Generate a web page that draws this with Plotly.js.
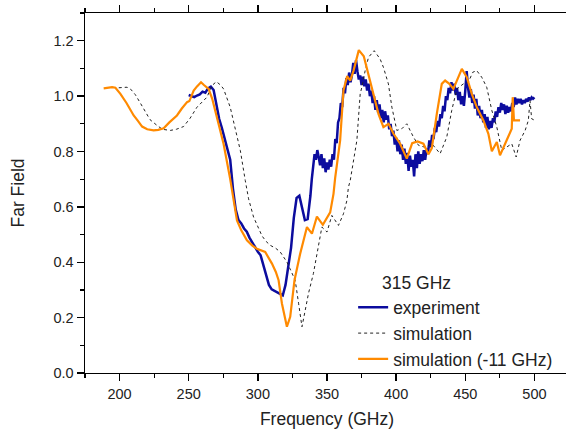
<!DOCTYPE html>
<html>
<head>
<meta charset="utf-8">
<script src="https://cdn.plot.ly/plotly-3.0.1.min.js"></script>
<style>
  html, body { margin: 0; padding: 0; overflow: hidden; background: #fff; }
  #chart { width: 580px; height: 430px; }
</style>
</head>
<body>
<div id="chart"></div>
<script>
// Measured far-field amplitude (315 GHz design)
const expFreq = [
  250,252,254,256,258,260,262,264,266,268,270,272,274,276,278,280,282,284,286,288,
  290,292,294,296,298,300,302,304,306,308,310,312,314,316,318,320,322,324,326,328,
  330,332,334,336,
  337,338,339,340,341,342,343,344,345,346,347,348,349,350,351,352,353,354,355,356,
  357,358,359,360,361,362,363,364,365,366,367,368,369,370,371,372,373,374,375,376,
  377,378,379,380,381,382,383,384,385,386,387,388,389,390,391,392,393,394,395,396,
  397,398,399,400,401,402,403,404,405,406,407,408,409,410,411,412,413,414,415,416,
  417,418,419,420,421,422,423,424,425,426,427,428,429,430,431,432,433,434,435,436,
  437,438,439,440,441,442,443,444,445,446,447,448,449,450,451,452,453,454,455,456,
  457,458,459,460,461,462,463,464,465,466,467,468,469,470,471,472,473,474,475,476,
  477,478,479,480,481,482,483,484,485,486,487,488,489,490,491,492,493,494,495,496,
  497,498,499,500
];
const expField = [
  1.004,1.000,0.996,1.002,1.006,1.016,1.012,1.028,1.034,1.022,0.962,0.918,0.884,0.846,0.812,0.770,0.665,0.590,0.552,0.540,
  0.522,0.510,0.488,0.470,0.452,0.438,0.425,0.392,0.356,0.318,0.302,0.296,0.290,0.284,0.280,0.318,0.382,0.452,0.560,0.632,
  0.640,0.590,0.552,0.556,
  0.590,0.640,0.700,0.760,0.790,0.770,0.805,0.780,0.750,0.790,0.740,0.775,0.725,0.760,0.735,0.770,0.745,0.790,0.770,0.845,
  0.830,0.905,0.920,0.975,0.960,1.030,1.010,1.065,1.040,1.085,1.050,1.075,1.120,1.080,1.130,1.090,1.060,1.075,1.040,1.070,
  1.035,1.060,1.020,1.045,1.000,1.020,0.975,1.000,0.950,0.985,0.940,0.970,0.920,0.950,0.905,0.945,0.915,0.930,0.880,0.900,
  0.855,0.875,0.825,0.850,0.800,0.840,0.790,0.825,0.770,0.810,0.755,0.795,0.730,0.785,0.745,0.770,0.710,0.790,0.740,0.800,
  0.755,0.790,0.765,0.805,0.770,0.810,0.790,0.840,0.815,0.860,0.845,0.885,0.870,0.910,0.890,0.935,0.920,0.965,0.945,1.000,
  0.985,1.030,1.010,1.050,1.020,1.045,1.005,1.030,0.985,1.015,0.970,1.000,0.965,1.020,1.090,1.030,0.995,1.025,0.975,1.005,
  0.955,0.990,0.930,0.965,0.920,0.950,0.905,0.935,0.885,0.925,0.880,0.910,0.885,0.920,0.905,0.945,0.925,0.960,0.940,0.975,
  0.950,0.970,0.935,0.965,0.940,0.960,0.945,0.975,0.960,0.995,0.970,0.990,0.975,0.990,0.970,0.985,0.975,0.990,0.980,0.995,
  0.985,0.995,0.990,0.995
];

// Simulated far field
const simFreq = [
  199.4,205.4,208,211.4,215,218.6,222,227.1,231,236.7,241,246.3,251,256,260,263.2,266.8,270,273,275.2,
  280,284,287.3,290.9,293.3,296.9,300,303,306,309,313,316.2,321,327,329.5,331.9,334,336.6,340.2,342.7,
  346.3,350,353.5,358.3,361.9,364.4,365.5,366.8,371.6,374,375.2,377.6,380,384.1,388.4,390.8,394.4,396.9,400.5,404.1,
  407.7,412.5,416.2,421,425.8,431.8,436.6,440.2,443.9,448.6,452.2,455.4,458.3,461.9,465.5,469.2,472.8,476.4,480,483.6,
  486.8,489.6,493.3,495.6,496.8,498,500.4
];
const simField = [
  1.030,1.032,1.025,1.005,0.975,0.942,0.915,0.894,0.880,0.876,0.880,0.890,0.920,0.960,0.980,0.996,1.038,1.052,1.040,1.026,
  0.960,0.880,0.804,0.695,0.629,0.563,0.525,0.495,0.475,0.461,0.450,0.437,0.401,0.335,0.250,0.167,0.220,0.287,0.360,0.431,
  0.527,0.509,0.569,0.533,0.575,0.623,0.671,0.695,0.840,1.008,1.032,1.092,1.140,1.164,1.134,1.104,1.044,0.960,0.876,0.882,
  0.900,0.852,0.822,0.815,0.828,0.792,0.852,0.948,1.026,1.044,1.050,1.086,1.092,1.068,1.032,0.948,0.888,0.804,0.815,0.828,
  0.780,0.840,0.876,0.912,0.984,0.918,0.912
];

// Simulated far field shifted by -11 GHz
const shiftFreq = [
  188.5,194.6,197,200.6,205,210.2,213,216.3,220,224.6,228,231.9,236,241.5,245,248.8,250.5,253.6,256,258.9,
  261,264.4,267,270,275.2,280,282.4,284.9,288,292.1,296,299.3,305.3,310.2,313,315,317.4,321,323.4,326.5,
  330.6,335.5,339.1,342.7,347,352.3,354.7,355.9,359.5,361.9,364.6,366.8,369.2,373,376.6,380,383.6,387.2,390.8,394.5,
  398.1,402.9,407.7,411.6,415.5,419.7,423.4,425.8,429.4,433,435.4,438.5,441.4,444.3,447.5,451.1,454.7,458.3,463.1,466.7,
  469.2,472.8,475.1,478.8,483.6,484.3,485.2,489.6
];
const shiftField = [
  1.028,1.032,1.030,1.008,0.975,0.930,0.912,0.890,0.880,0.876,0.878,0.884,0.905,0.930,0.955,0.978,0.982,1.020,1.035,1.050,
  1.040,1.026,0.990,0.930,0.828,0.700,0.623,0.551,0.515,0.479,0.460,0.449,0.437,0.395,0.365,0.335,0.251,0.167,0.203,0.335,
  0.431,0.527,0.503,0.565,0.535,0.580,0.647,0.705,0.840,1.020,1.072,1.056,1.092,1.166,1.144,1.080,1.008,0.936,0.888,0.900,
  0.864,0.828,0.774,0.830,0.836,0.828,0.790,0.812,0.936,1.044,1.056,1.044,1.026,1.062,1.098,1.068,1.008,0.960,0.912,0.864,
  0.801,0.834,0.786,0.828,0.882,0.996,0.912,0.912
];

const seriesNames = ['experiment', 'simulation', 'simulation (-11 GHz)'];
const xTickVals = [200, 250, 300, 350, 400, 450, 500];
const yTickVals = [0.0, 0.2, 0.4, 0.6, 0.8, 1.0, 1.2];

const FONT = 'Liberation Sans, Arial, sans-serif';

const traces = [
  {
    x: expFreq, y: expField, name: seriesNames[0], type: 'scatter', mode: 'lines',
    line: { color: '#0c0c9e', width: 2.5 }
  },
  {
    x: simFreq, y: simField, name: seriesNames[1], type: 'scatter', mode: 'lines',
    line: { color: '#222222', width: 1, dash: 'dot' }
  },
  {
    x: shiftFreq, y: shiftField, name: seriesNames[2], type: 'scatter', mode: 'lines',
    line: { color: '#ff8a00', width: 2.2 }
  }
];

const axisCommon = {
  showline: true, linecolor: '#000', linewidth: 1.4,
  mirror: 'ticks', ticks: 'outside', ticklen: 7, tickwidth: 1.3, tickcolor: '#000',
  showgrid: false, zeroline: false,
  tickfont: { family: FONT, size: 14.5, color: '#222' }
};

const layout = {
  width: 580, height: 430,
  margin: { l: 85, r: 11, t: 13, b: 57 },
  paper_bgcolor: '#fff', plot_bgcolor: '#fff',
  font: { family: FONT, color: '#222' },
  showlegend: true,
  legend: {
    x: 0.554, y: 0.232, xanchor: 'left', yanchor: 'top',
    bgcolor: 'rgba(0,0,0,0)', borderwidth: 0,
    font: { family: FONT, size: 17.5, color: '#222' },
    tracegroupgap: 0
  },
  xaxis: Object.assign({}, axisCommon, {
    range: [175, 525],
    tickvals: xTickVals, ticktext: xTickVals.map(String),
    minor: { dtick: 25, ticks: 'outside', ticklen: 4, tickwidth: 1.2, tickcolor: '#000' },
    title: { text: 'Frequency (GHz)', font: { family: FONT, size: 17.5, color: '#222' }, standoff: 12 }
  }),
  yaxis: Object.assign({}, axisCommon, {
    range: [0, 1.3],
    tickvals: yTickVals, ticktext: yTickVals.map(v => v.toFixed(1)),
    minor: { dtick: 0.1, ticks: 'outside', ticklen: 4, tickwidth: 1.2, tickcolor: '#000' },
    title: { text: 'Far Field', font: { family: FONT, size: 17.5, color: '#222' }, standoff: 24 }
  }),
  annotations: [{
    text: '315 GHz', xref: 'paper', yref: 'paper', x: 0.684, y: 0.25,
    xanchor: 'center', yanchor: 'middle', showarrow: false,
    font: { family: FONT, size: 17.5, color: '#222' }
  }]
};

Plotly.newPlot('chart', traces, layout, { staticPlot: true, displayModeBar: false });
</script>
</body>
</html>
